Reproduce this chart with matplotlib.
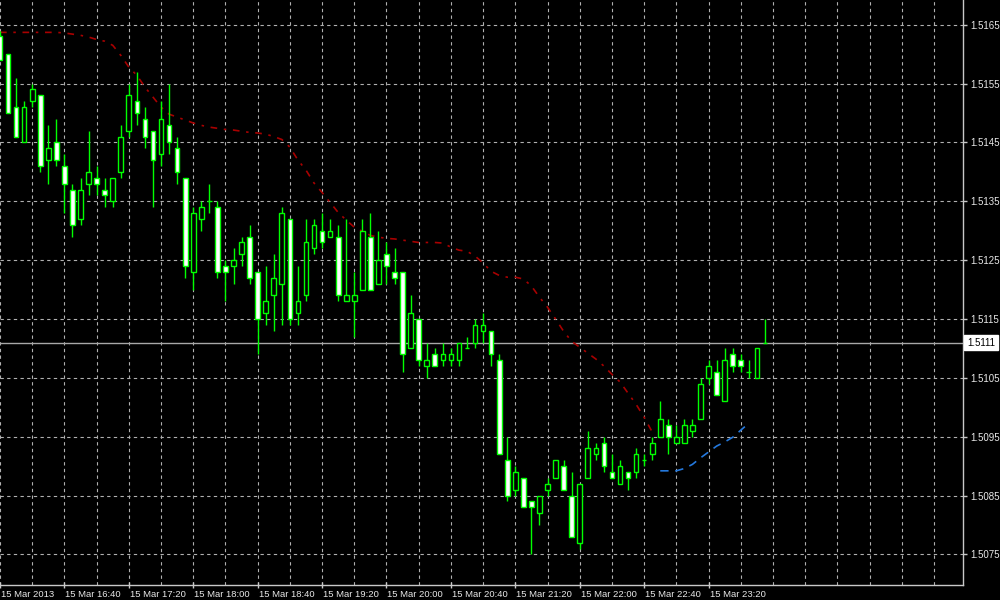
import matplotlib
matplotlib.use("Agg")
import matplotlib.pyplot as plt
import matplotlib.transforms as mtransforms

# ---------------- data (M5 bars, 15 Mar 2013 16:00 .. 23:55) ----------------
open_ = [1.5163, 1.5160, 1.5151, 1.5145, 1.5152, 1.5153, 1.5142, 1.5145, 1.5141, 1.5137,
         1.5132, 1.5138, 1.5139, 1.5137, 1.5135, 1.5140, 1.5147, 1.5152, 1.5149, 1.5147,
         1.5143, 1.5148, 1.5144, 1.5139, 1.5123, 1.5132, 1.5135, 1.5134, 1.5124, 1.5124,
         1.5126, 1.5129, 1.5123, 1.5116, 1.5119, 1.5121, 1.5132, 1.5116, 1.5119, 1.5127,
         1.5130, 1.5129, 1.5129, 1.5118, 1.5118, 1.5120, 1.5129, 1.5121, 1.5126, 1.5123,
         1.5123, 1.5110, 1.5115, 1.5107, 1.5109, 1.5108, 1.5108, 1.5108, 1.5110, 1.5111,
         1.5113, 1.5113, 1.5108, 1.5091, 1.5086, 1.5088, 1.5084, 1.5082, 1.5086, 1.5088,
         1.5090, 1.5085, 1.5077, 1.5088, 1.5092, 1.5094, 1.5089, 1.5087, 1.5089, 1.5089,
         1.5091, 1.5092, 1.5095, 1.5097, 1.5094, 1.5094, 1.5096, 1.5098, 1.5105, 1.5106,
         1.5101, 1.5109, 1.5108, 1.5106, 1.5105, 1.5111]
high = [1.5164, 1.5160, 1.5156, 1.5152, 1.5155, 1.5153, 1.5148, 1.5149, 1.5143, 1.5138,
        1.5139, 1.5147, 1.5141, 1.5139, 1.5139, 1.5148, 1.5155, 1.5157, 1.5151, 1.5147,
        1.5152, 1.5155, 1.5146, 1.5139, 1.5134, 1.5135, 1.5138, 1.5135, 1.5125, 1.5127,
        1.5129, 1.5131, 1.5123, 1.5124, 1.5126, 1.5134, 1.5132, 1.5124, 1.5132, 1.5132,
        1.5133, 1.5132, 1.5131, 1.5132, 1.5123, 1.5132, 1.5133, 1.5130, 1.5128, 1.5127,
        1.5123, 1.5119, 1.5115, 1.5111, 1.5110, 1.5111, 1.5110, 1.5111, 1.5112, 1.5115,
        1.5116, 1.5113, 1.5109, 1.5095, 1.5090, 1.5088, 1.5084, 1.5085, 1.5088, 1.5091,
        1.5091, 1.5089, 1.5087, 1.5096, 1.5094, 1.5095, 1.5092, 1.5091, 1.5089, 1.5093,
        1.5092, 1.5095, 1.5101, 1.5098, 1.5097, 1.5098, 1.5098, 1.5105, 1.5108, 1.5108,
        1.5110, 1.5110, 1.5109, 1.5108, 1.5110, 1.5115]
low = [1.5159, 1.5150, 1.5146, 1.5145, 1.5151, 1.5140, 1.5138, 1.5141, 1.5133, 1.5129,
       1.5131, 1.5136, 1.5136, 1.5134, 1.5134, 1.5139, 1.5146, 1.5148, 1.5144, 1.5134,
       1.5141, 1.5143, 1.5138, 1.5122, 1.5120, 1.5130, 1.5133, 1.5122, 1.5118, 1.5121,
       1.5124, 1.5121, 1.5109, 1.5114, 1.5113, 1.5114, 1.5114, 1.5114, 1.5118, 1.5126,
       1.5127, 1.5129, 1.5118, 1.5118, 1.5112, 1.5120, 1.5120, 1.5121, 1.5121, 1.5121,
       1.5106, 1.5110, 1.5107, 1.5105, 1.5107, 1.5107, 1.5107, 1.5107, 1.5110, 1.5110,
       1.5111, 1.5107, 1.5092, 1.5084, 1.5085, 1.5083, 1.5075, 1.5080, 1.5085, 1.5088,
       1.5086, 1.5078, 1.5076, 1.5088, 1.5091, 1.5089, 1.5088, 1.5087, 1.5086, 1.5088,
       1.5090, 1.5091, 1.5095, 1.5092, 1.5094, 1.5094, 1.5095, 1.5098, 1.5104, 1.5102,
       1.5101, 1.5106, 1.5106, 1.5105, 1.5105, 1.5111]
close = [1.5159, 1.5150, 1.5146, 1.5151, 1.5154, 1.5141, 1.5144, 1.5142, 1.5138, 1.5131,
         1.5137, 1.5140, 1.5138, 1.5136, 1.5139, 1.5146, 1.5153, 1.5150, 1.5146, 1.5142,
         1.5149, 1.5145, 1.5140, 1.5124, 1.5133, 1.5134, 1.5135, 1.5123, 1.5123, 1.5125,
         1.5128, 1.5122, 1.5115, 1.5118, 1.5122, 1.5133, 1.5115, 1.5118, 1.5128, 1.5131,
         1.5128, 1.5130, 1.5119, 1.5119, 1.5119, 1.5130, 1.5120, 1.5125, 1.5124, 1.5122,
         1.5109, 1.5116, 1.5108, 1.5108, 1.5107, 1.5109, 1.5109, 1.5111, 1.5110, 1.5114,
         1.5114, 1.5109, 1.5092, 1.5085, 1.5089, 1.5083, 1.5083, 1.5085, 1.5087, 1.5091,
         1.5086, 1.5078, 1.5087, 1.5093, 1.5093, 1.5090, 1.5088, 1.5090, 1.5088, 1.5092,
         1.5091, 1.5094, 1.5098, 1.5095, 1.5095, 1.5097, 1.5097, 1.5104, 1.5107, 1.5102,
         1.5108, 1.5107, 1.5107, 1.5106, 1.5110, 1.5111]

# red indicator (bars 0..81)
red_line = [1.51637, 1.51637, 1.51637, 1.51637, 1.51637, 1.51637, 1.51637, 1.51637, 1.51636, 1.51634,
            1.51632, 1.51629, 1.51625, 1.51622, 1.51615, 1.51598, 1.51578, 1.51564, 1.51544, 1.51527,
            1.51510, 1.51498, 1.51493, 1.51488, 1.51483, 1.51479, 1.51476, 1.51474, 1.51472, 1.51471,
            1.51469, 1.51467, 1.51466, 1.51464, 1.51460, 1.51455, 1.51442, 1.51420, 1.51403, 1.51381,
            1.51365, 1.51348, 1.51331, 1.51318, 1.51306, 1.51299, 1.51292, 1.51289, 1.51287, 1.51286,
            1.51284, 1.51282, 1.51280, 1.51280, 1.51280, 1.51279, 1.51272, 1.51267, 1.51265, 1.51257,
            1.51245, 1.51231, 1.51224, 1.51221, 1.51221, 1.51218, 1.51206, 1.51187, 1.51170, 1.51150,
            1.51129, 1.51112, 1.51102, 1.51092, 1.51082, 1.51070, 1.51056, 1.51043, 1.51024, 1.51005,
            1.50983, 1.50958]
red_start = 0
# blue indicator (bars 82..93)
blue_line = [1.50892, 1.50892, 1.50892, 1.50896, 1.50903, 1.50914, 1.50924, 1.50934, 1.50941,
             1.50949, 1.50961, 1.50973]
blue_start = 82

bid_price = 1.5111
x_tick_pos = [0, 8, 16, 24, 32, 40, 48, 56, 64, 72, 80, 88]
x_tick_labels = ["15 Mar 2013", "15 Mar 16:40", "15 Mar 17:20", "15 Mar 18:00",
                 "15 Mar 18:40", "15 Mar 19:20", "15 Mar 20:00", "15 Mar 20:40",
                 "15 Mar 21:20", "15 Mar 22:00", "15 Mar 22:40", "15 Mar 23:20"]
y_ticks = [1.5075, 1.5085, 1.5095, 1.5105, 1.5115, 1.5125, 1.5135, 1.5145, 1.5155, 1.5165]
y_tick_labels = ["1.5075", "1.5085", "1.5095", "1.5105", "1.5115",
                 "1.5125", "1.5135", "1.5145", "1.5155", "1.5165"]

# ---------------- drawing ----------------
plt.rcParams['font.family'] = ['Liberation Sans', 'DejaVu Sans']
fig = plt.figure(figsize=(10, 6), dpi=100, facecolor='black')
ax = fig.add_axes([0.0, 0.025, 0.963, 0.975])
ax.set_facecolor('black')

GREEN = '#00ff00'
GRID = '#b0b0b0'

idx = list(range(len(open_)))
ax.vlines(idx, low, high, color=GREEN, linewidth=1.0, zorder=3)
bottoms = [min(o, c) for o, c in zip(open_, close)]
heights = [abs(c - o) for o, c in zip(open_, close)]
fills = ['white' if c < o else 'black' for o, c in zip(open_, close)]
ax.bar(idx, heights, bottom=bottoms, width=0.58, color=fills, edgecolor=GREEN,
       linewidth=1.0, zorder=4)

ax.plot(range(red_start, red_start + len(red_line)), red_line, color='#a80000',
        linewidth=1.2, linestyle=(0, (4, 4, 1.5, 4)), zorder=2)
ax.plot(range(blue_start, blue_start + len(blue_line)), blue_line, color='#2478dc',
        linewidth=1.2, linestyle=(0, (5, 4)), zorder=2)

ax.axhline(bid_price, color='#a8a8a8', linewidth=1.0, zorder=1)

ax.set_xlim(0, 119.6)
ax.set_ylim(1.50698, 1.51692)

# grid
ax.set_xticks(x_tick_pos)
ax.set_xticklabels(x_tick_labels)
minor_x = [v for v in range(4, 120, 4) if v not in x_tick_pos]
ax.set_xticks(minor_x, minor=True)
ax.set_yticks(y_ticks)
ax.set_yticklabels(y_tick_labels)
ax.grid(True, which='both', axis='x', color=GRID, linestyle=(0, (3, 3)), linewidth=0.8, zorder=0)
ax.grid(True, which='major', axis='y', color=GRID, linestyle=(0, (3, 3)), linewidth=0.8, zorder=0)
ax.set_axisbelow(True)

ax.yaxis.tick_right()
ax.tick_params(axis='y', which='major', direction='out', length=3, width=1,
               colors='#c8c8c8', labelcolor='#e8e8e8', labelsize=7, pad=2)
ax.tick_params(axis='x', which='major', direction='inout', length=4, width=1,
               colors='#c8c8c8', labelcolor='#e8e8e8', labelsize=6.8, pad=1.5)
ax.tick_params(axis='x', which='minor', length=0)

offset = mtransforms.ScaledTranslation(1 / 100, 0, fig.dpi_scale_trans)
for lbl in ax.get_xticklabels():
    lbl.set_horizontalalignment('left')
    lbl.set_transform(lbl.get_transform() + offset)

for side in ['left', 'top']:
    ax.spines[side].set_visible(False)
for side in ['right', 'bottom']:
    ax.spines[side].set_color('#c8c8c8')
    ax.spines[side].set_linewidth(1.0)

# bid price label box
trans = mtransforms.blended_transform_factory(ax.transAxes, ax.transData)
ax.text(1.0045, bid_price, "1.5111", transform=trans, ha='left', va='center',
        fontsize=7, color='black', clip_on=False,
        bbox=dict(boxstyle='square,pad=0.3', facecolor='white', edgecolor='white'))

fig.savefig('out.png', dpi=100, facecolor='black')
